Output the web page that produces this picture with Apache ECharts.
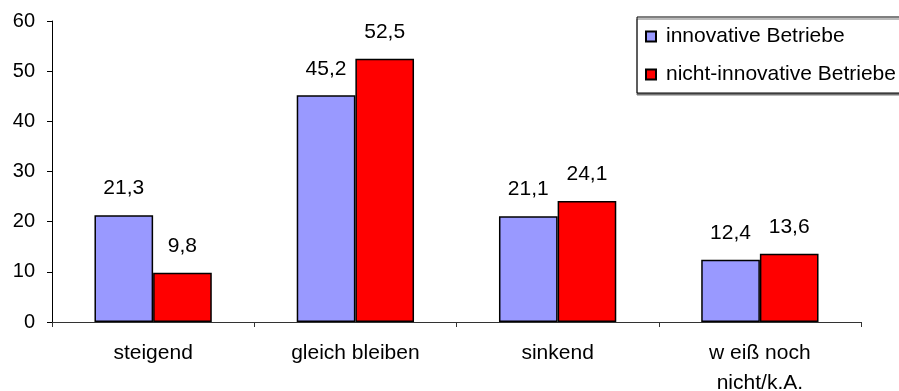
<!DOCTYPE html>
<html>
<head>
<meta charset="utf-8">
<script src="https://cdn.jsdelivr.net/npm/echarts@6/dist/echarts.min.js"></script>
<style>html,body{margin:0;padding:0;background:#fff}#c{width:899px;height:391px}</style>
</head>
<body>
<div id="c"></div>
<script>
var categories = ['steigend', 'gleich bleiben', 'sinkend', 'w eiß noch\nnicht/k.A.'];
var innovative = [21.3, 45.2, 21.1, 12.4];
var nichtInnovative = [9.8, 52.5, 24.1, 13.6];
var seriesNames = ['innovative Betriebe', 'nicht-innovative Betriebe'];

var font = 'Liberation Sans, Arial, sans-serif';
var chart = echarts.init(document.getElementById('c'), null, {renderer: 'canvas'});
function fmt(p) { return String(p.value).replace('.', ','); }
chart.setOption({
  animation: false,
  backgroundColor: '#fff',
  textStyle: {fontFamily: font},
  grid: {left: 52, right: 38, top: 21, bottom: 69, containLabel: false, outerBoundsMode: 'none'},
  legend: {
    orient: 'vertical',
    left: 637, top: 17,
    padding: [9, 40, 8, 8],
    itemWidth: 10, itemHeight: 10,
    itemGap: 17,
    borderColor: '#000', borderWidth: 1,
    backgroundColor: '#fff',
    shadowColor: '#777', shadowOffsetX: 0, shadowOffsetY: 2, shadowBlur: 0,
    textStyle: {fontFamily: font, fontSize: 21, color: '#000', padding: [0, 0, 0, 5]},
    data: [{name: seriesNames[0], icon: 'rect'}, {name: seriesNames[1], icon: 'rect'}]
  },
  xAxis: {
    type: 'category',
    data: categories,
    axisLine: {lineStyle: {color: '#333', width: 1}},
    axisTick: {show: true, length: 5, lineStyle: {color: '#333'}},
    axisLabel: {fontFamily: font, fontSize: 21, color: '#000', margin: 16, lineHeight: 30}
  },
  yAxis: {
    type: 'value', min: 0, max: 60, interval: 10,
    axisLine: {show: true, lineStyle: {color: '#000', width: 1}},
    axisTick: {show: true, length: 5, lineStyle: {color: '#000'}},
    splitLine: {show: false},
    axisLabel: {fontFamily: font, fontSize: 20, color: '#000', margin: 17}
  },
  series: [
    {
      name: seriesNames[0], type: 'bar', data: innovative,
      barGap: '0%', barCategoryGap: '42%',
      itemStyle: {color: '#9999FF', borderColor: '#000', borderWidth: 1.5},
      label: {show: true, position: 'top', distance: 16, formatter: fmt, fontFamily: font, fontSize: 21, color: '#000'}
    },
    {
      name: seriesNames[1], type: 'bar', data: nichtInnovative,
      barGap: '0%', barCategoryGap: '42%',
      itemStyle: {color: '#FF0000', borderColor: '#000', borderWidth: 1.5},
      label: {show: true, position: 'top', distance: 16, formatter: fmt, fontFamily: font, fontSize: 21, color: '#000'}
    }
  ]
});
</script>
</body>
</html>
